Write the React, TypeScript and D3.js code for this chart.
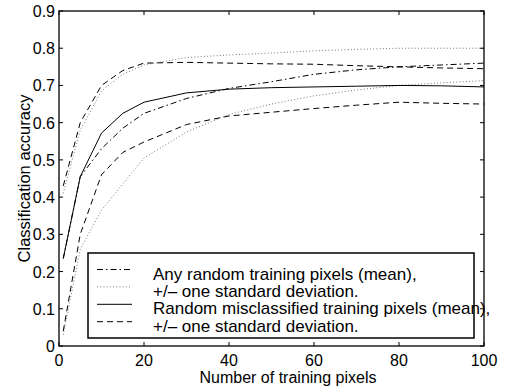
import React from "react";
import * as d3 from "d3";

// training set sizes (x) and accuracies
const trainingPixels = [1, 5, 10, 15, 20, 30, 40, 50, 60, 70, 80, 90, 100];

const anyMean = [0.235, 0.455, 0.53, 0.585, 0.625, 0.665, 0.692, 0.71, 0.73, 0.742, 0.75, 0.755, 0.76];
const anyUpper = [0.41, 0.58, 0.685, 0.73, 0.755, 0.775, 0.782, 0.787, 0.793, 0.797, 0.8, 0.8, 0.8];
const anyLower = [0.03, 0.26, 0.365, 0.435, 0.505, 0.575, 0.622, 0.65, 0.672, 0.688, 0.7, 0.707, 0.713];

const misMean = [0.235, 0.455, 0.572, 0.625, 0.655, 0.68, 0.69, 0.694, 0.696, 0.698, 0.7, 0.699, 0.696];
const misUpper = [0.43, 0.6, 0.7, 0.74, 0.76, 0.762, 0.76, 0.758, 0.757, 0.753, 0.75, 0.747, 0.745];
const misLower = [0.04, 0.3, 0.46, 0.52, 0.548, 0.595, 0.618, 0.628, 0.638, 0.647, 0.655, 0.652, 0.65];

const xTicks = [0, 20, 40, 60, 80, 100];
const yTicks = [0, 0.1, 0.2, 0.3, 0.4, 0.5, 0.6, 0.7, 0.8, 0.9];

const legendLabels = [
  "Any random training pixels (mean),",
  "+/\u2013 one standard deviation.",
  "Random misclassified training pixels (mean),",
  "+/\u2013 one standard deviation.",
];

const font = "'Liberation Sans', Arial, Helvetica, sans-serif";

const styles = {
  dashdot: { stroke: "#000", dash: "6,3,1.5,3" },
  dotted: { stroke: "#777", dash: "1,2.2" },
  solid: { stroke: "#000", dash: undefined as string | undefined },
  dashed: { stroke: "#000", dash: "6,4" },
};

export default function App() {
  const width = 505;
  const height = 388;
  const margin = { top: 11, right: 21, bottom: 42, left: 59 };

  const x = d3.scaleLinear().domain([0, 100]).range([margin.left, width - margin.right]);
  const y = d3.scaleLinear().domain([0, 0.9]).range([height - margin.bottom, margin.top]);

  const line = (vals: number[]) =>
    d3.line<number>()
      .x((_, i) => x(trainingPixels[i]))
      .y((d) => y(d))(vals) || "";

  const series = [
    { vals: anyMean, st: styles.dashdot },
    { vals: anyUpper, st: styles.dotted },
    { vals: anyLower, st: styles.dotted },
    { vals: misMean, st: styles.solid },
    { vals: misUpper, st: styles.dashed },
    { vals: misLower, st: styles.dashed },
  ];

  const legendStyles = [styles.dashdot, styles.dotted, styles.solid, styles.dashed];

  const x0 = x(0), x1 = x(100), y0 = y(0), y1 = y(0.9);
  const tick = 4;

  // legend box
  const lb = { x: 88, y: 253, w: 386, h: 85 };

  return (
    <svg
      width={width}
      height={height}
      style={{ position: "fixed", left: 0, top: 0, background: "#fff" }}
      fontFamily={font}
    >
      <rect x={0} y={0} width={width} height={height} fill="#fff" />

      {series.map((s, i) => (
        <path
          key={i}
          d={line(s.vals)}
          fill="none"
          stroke={s.st.stroke}
          strokeWidth={1}
          strokeDasharray={s.st.dash}
        />
      ))}

      {/* ticks, inward on all four sides */}
      {xTicks.map((t) => (
        <g key={"xt" + t}>
          <line x1={x(t)} x2={x(t)} y1={y0} y2={y0 - tick} stroke="#000" />
          <line x1={x(t)} x2={x(t)} y1={y1} y2={y1 + tick} stroke="#000" />
          <text x={x(t)} y={y0 + 20} fontSize={16} textAnchor="middle">
            {t}
          </text>
        </g>
      ))}
      {yTicks.map((t) => (
        <g key={"yt" + t}>
          <line x1={x0} x2={x0 + tick} y1={y(t)} y2={y(t)} stroke="#000" />
          <line x1={x1} x2={x1 - tick} y1={y(t)} y2={y(t)} stroke="#000" />
          <text x={x0 - 4} y={y(t) + 6} fontSize={16} textAnchor="end">
            {d3.format("")(+t.toFixed(1))}
          </text>
        </g>
      ))}

      <rect x={x0} y={y1} width={x1 - x0} height={y0 - y1} fill="none" stroke="#000" strokeWidth={1.3} />

      {/* legend */}
      <rect x={lb.x} y={lb.y} width={lb.w} height={lb.h} fill="#fff" stroke="#000" strokeWidth={1.5} />
      {legendLabels.map((lab, i) => {
        const ly = 269.5 + i * 17.4;
        const st = legendStyles[i];
        return (
          <g key={lab + i}>
            <line x1={97} x2={132} y1={ly} y2={ly} stroke={st.stroke} strokeDasharray={st.dash} />
            <text x={153} y={ly + 10} fontSize={17}>
              {lab}
            </text>
          </g>
        );
      })}

      <text x={288} y={383} fontSize={16} textAnchor="middle">
        Number of training pixels
      </text>
      <text
        transform={`translate(30,${(y0 + y1) / 2}) rotate(-90)`}
        fontSize={16.5}
        textAnchor="middle"
      >
        Classification accuracy
      </text>
    </svg>
  );
}
